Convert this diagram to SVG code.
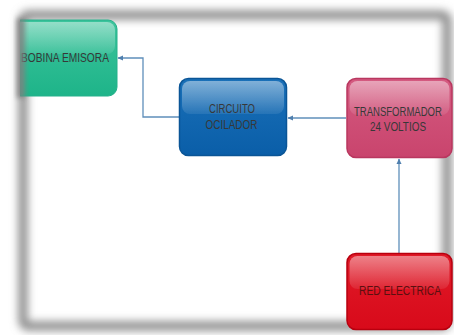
<svg xmlns="http://www.w3.org/2000/svg" width="454" height="335" viewBox="0 0 454 335">
<defs>
<style>
.lbl{font-family:"Liberation Sans",Arial,sans-serif;font-size:12px;fill:#383838;text-anchor:start}
.edge{fill:none;stroke:#5f8fba;stroke-width:1.3}
</style>
<filter id="blur" x="-10%" y="-10%" width="120%" height="120%"><feGaussianBlur stdDeviation="4.2"/></filter>
<filter id="blur2" x="-50%" y="-20%" width="200%" height="140%"><feGaussianBlur stdDeviation="2.5"/></filter>
<marker id="arr" markerWidth="6" markerHeight="6" refX="5" refY="3" orient="auto" markerUnits="userSpaceOnUse">
<path d="M0,0.5 L5.5,3 L0,5.5 Z" fill="#4f7fae"/>
</marker>
<linearGradient id="gloss" x1="0" y1="0" x2="0" y2="1">
<stop offset="0" stop-color="#fff" stop-opacity="0.45"/>
<stop offset="1" stop-color="#fff" stop-opacity="0.08"/>
</linearGradient>
<linearGradient id="gGreen" x1="0" y1="0" x2="0" y2="1"><stop offset="0" stop-color="#3cc49c"/><stop offset="1" stop-color="#1eb489"/></linearGradient>
<linearGradient id="gBlue" x1="0" y1="0" x2="0" y2="1"><stop offset="0" stop-color="#1a70b8"/><stop offset="1" stop-color="#0a5ea8"/></linearGradient>
<linearGradient id="gPink" x1="0" y1="0" x2="0" y2="1"><stop offset="0" stop-color="#d45a80"/><stop offset="1" stop-color="#c9446d"/></linearGradient>
<linearGradient id="gRed" x1="0" y1="0" x2="0" y2="1"><stop offset="0" stop-color="#e01a28"/><stop offset="1" stop-color="#d80a1a"/></linearGradient>
<clipPath id="clipGreen"><rect x="20" y="0" width="120" height="120"/></clipPath>
</defs>
<rect x="0" y="0" width="454" height="335" fill="#fff"/>
<g id="frame">
<rect x="23" y="15" width="424" height="311" rx="5" fill="none" stroke="#8a8a8a" stroke-width="9" filter="url(#blur)"/>
</g>
<g id="connectors">
<path class="edge" d="M346,118 L288,118" marker-end="url(#arr)"/>
<path class="edge" d="M179,117 L143,117 L143,58 L118,58" marker-end="url(#arr)"/>
<path class="edge" d="M399,253 L399,159" stroke="#7aa6cc" marker-end="url(#arr)"/>
</g>
<g id="bobina">
<g clip-path="url(#clipGreen)">
<rect x="12" y="20" width="105" height="76" rx="9" fill="url(#gGreen)" stroke="#24b08a" stroke-width="1"/>
<rect x="14" y="22" width="101" height="32" rx="8" fill="url(#gloss)"/>
<text class="lbl" x="21" y="62" textLength="88" lengthAdjust="spacingAndGlyphs">BOBINA EMISORA</text>
</g>
<rect x="17" y="18" width="8" height="80" fill="#808080" opacity="0.85" filter="url(#blur2)"/>
</g>
<g id="circuito">
<rect x="179.5" y="78.5" width="107" height="77" rx="9" fill="url(#gBlue)" stroke="#0a5596" stroke-width="1.5"/>
<rect x="182" y="81" width="102" height="33" rx="8" fill="url(#gloss)"/>
<text class="lbl" x="209" y="112.5" textLength="46" lengthAdjust="spacingAndGlyphs">CIRCUITO</text>
<text class="lbl" x="205.5" y="128.5" textLength="52" lengthAdjust="spacingAndGlyphs">OCILADOR</text>
</g>
<g id="transformador">
<rect x="347" y="78.5" width="105" height="79" rx="9" fill="url(#gPink)" stroke="#b9375f" stroke-width="1.5"/>
<rect x="349.5" y="81" width="100" height="34" rx="8" fill="url(#gloss)"/>
<text class="lbl" transform="translate(354,115.5) scale(0.795,1)" x="0" y="0">TRANSFORMADOR</text>
<text class="lbl" x="370" y="130.5" textLength="56" lengthAdjust="spacingAndGlyphs">24 VOLTIOS</text>
</g>
<g id="red">
<rect x="347" y="253.5" width="105" height="76" rx="9" fill="url(#gRed)" stroke="#b8000f" stroke-width="1.5"/>
<rect x="349.5" y="256" width="100" height="33" rx="8" fill="url(#gloss)"/>
<text class="lbl" x="359" y="295" textLength="82" lengthAdjust="spacingAndGlyphs" style="fill:#5a1010">RED ELECTRICA</text>
</g>
</svg>
